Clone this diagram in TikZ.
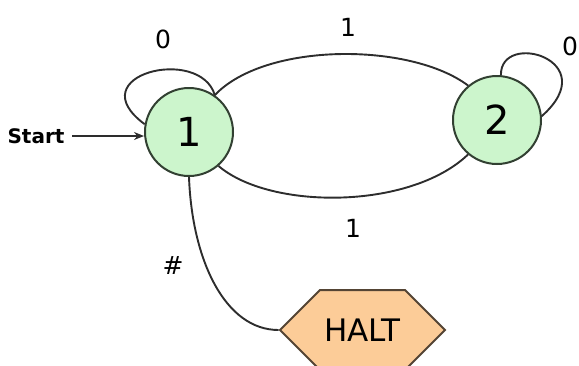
\documentclass[tikz,border=0pt]{standalone}
\usepackage{fontspec}
\setmainfont{DejaVu Sans}
\usetikzlibrary{shapes.symbols,arrows.meta}

\definecolor{statefill}{RGB}{204,245,204}
\definecolor{stateline}{RGB}{50,64,50}
\definecolor{haltfill}{RGB}{252,204,152}
\definecolor{haltline}{RGB}{84,68,52}
\definecolor{edgecol}{RGB}{45,45,45}

\tikzset{
  state/.style={circle, draw=stateline, fill=statefill, line width=2pt,
    minimum size=88pt, inner sep=0pt, font=\fontsize{40}{42}\selectfont},
  haltbox/.style={signal, signal to=west and east, signal pointer angle=90,
    draw=haltline, fill=haltfill, line width=2pt, minimum width=165pt,
    minimum height=80pt, inner sep=0pt, font=\fontsize{31}{33}\selectfont},
  edge/.style={draw=edgecol, line width=1.9pt},
  lbl/.style={font=\fontsize{25}{27}\selectfont, inner sep=0pt},
}

\begin{document}
\begin{tikzpicture}[x=1pt, y=-1pt]
\useasboundingbox (0,0) rectangle (579,365);

% states
\node[state] (n1) at (189,132) {1};
\node[state] (n2) at (497,120) {2};
\node[haltbox] (halt) at (362.5,330) {HALT};

% start marker
\node[font=\bfseries\fontsize{20}{21}\selectfont, inner sep=0pt] (start) at (36,136) {Start};
\coordinate (startend) at (72,136);
\draw[edge, -{Stealth[length=10pt,width=8pt]}] (startend) -- (n1.west |- startend);

% transitions between 1 and 2
\draw[edge] (n1.55) .. controls (265,42) and (410,42) .. (n2.130);
\draw[edge] (n1.-49) .. controls (270,210) and (410,210) .. (n2.-130);

% self loops
\draw[edge] (n1.55) .. controls (200,45) and (78,75) .. (n1.170);
\draw[edge] (n2.85) .. controls (500,30) and (605,60) .. (n2.5);

% halting transition
\draw[edge] (n1.-90) .. controls (192,260) and (225,330) .. (halt.west);

% labels
\node[lbl] (l0a) at (163,39) {0};
\node[lbl] (l1a) at (348,27) {1};
\node[lbl] (l0b) at (570,46) {0};
\node[lbl] (l1b) at (353,228) {1};
\node[lbl] (lh) at (173,266) {\#};
\end{tikzpicture}
\end{document}
